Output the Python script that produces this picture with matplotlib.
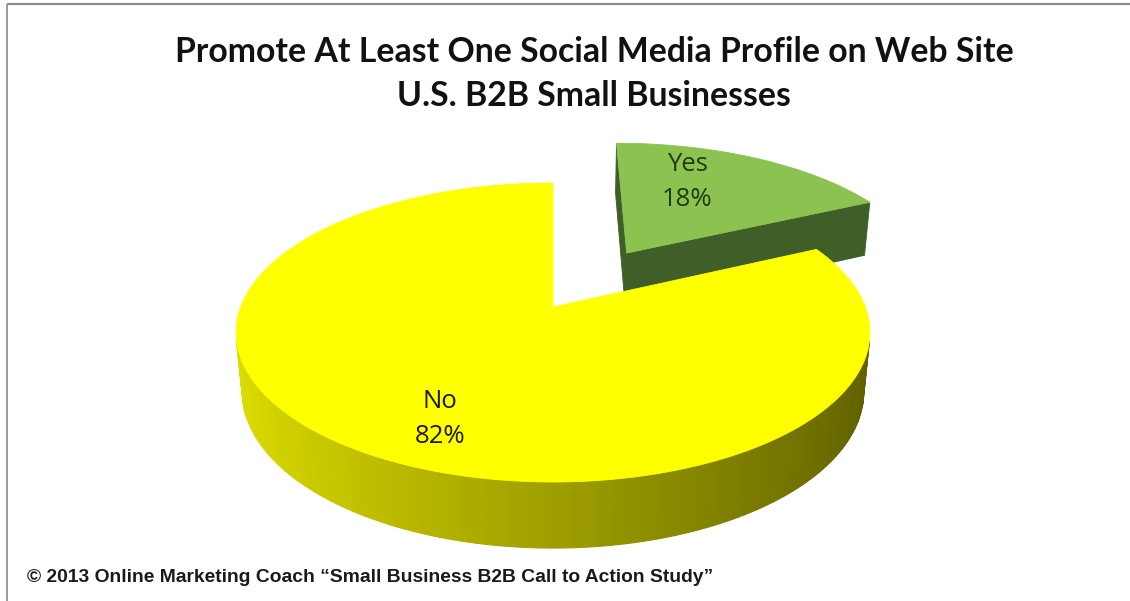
import numpy as np
import matplotlib.pyplot as plt
from matplotlib.patches import Polygon

# survey answers
labels = ["Yes", "No"]
shares = [18, 82]
top_colors = ["#8cc350", "#ffff00"]
text_colors = ["#1f3a10", "#1a1a00"]
exploded = [0.47, 0.0]

title = "Promote At Least One Social Media Profile on Web Site\nU.S. B2B Small Businesses"
footer = "\u00a9 2013 Online Marketing Coach \u201cSmall Business B2B Call to Action Study\u201d"

# camera for the tilted pie (pixel space)
CX, CY = 553, 307
FOCAL = 1622.0
DIST = 5.194
ELEV = np.radians(27.7)
THICK = 0.215
s_el, c_el = np.sin(ELEV), np.cos(ELEV)
cam = np.array([0.0, -DIST * c_el, DIST * s_el])


def project(X, Y, Z):
    X, Y, Z = np.asarray(X, float), np.asarray(Y, float), np.asarray(Z, float)
    depth = DIST + Y * c_el - Z * s_el
    u = FOCAL * X / depth
    v = FOCAL * (Y * s_el + Z * c_el) / depth
    return CX + u, CY - v


def facing(point, normal):
    return np.dot(cam - np.asarray(point), np.asarray(normal)) > 0


def side_shade(base, nx):
    # light from the left: brightness drops as the wall turns right
    t = (nx + 1) / 2
    k = 0.87 - 0.50 * t
    return tuple(np.clip(np.array(base) * k, 0, 1))


fig = plt.figure(figsize=(11.3, 6.01), dpi=100)
ax = fig.add_axes([0, 0, 1, 1])
ax.set_xlim(0, 1130)
ax.set_ylim(601, 0)
ax.axis("off")

# slice angles, clockwise from 12 o'clock
total = float(sum(shares))
starts = np.cumsum([0] + shares[:-1]) / total * 2 * np.pi
spans = np.array(shares) / total * 2 * np.pi

side_base = {0: (0.25, 0.37, 0.155), 1: (1.0, 1.0, 0.0)}

for i in [0, 1]:
    a0, a1 = starts[i], starts[i] + spans[i]
    mid = (a0 + a1) / 2
    ox, oy = exploded[i] * np.sin(mid), exploded[i] * np.cos(mid)
    phi = np.linspace(a0, a1, 240)
    rx, ry = ox + np.sin(phi), oy + np.cos(phi)

    # radial faces
    for ang, sign in [(a0, -1), (a1, 1)]:
        ex, ey = ox + np.sin(ang), oy + np.cos(ang)
        n = np.array([np.cos(ang), -np.sin(ang), 0.0]) * sign
        if facing([ox, oy, 0], n):
            xs, ys = project([ox, ex, ex, ox], [oy, ey, ey, oy],
                             [0, 0, -THICK, -THICK])
            col = side_base[i] if i == 0 else side_shade(side_base[i], 0.6)
            ax.add_patch(Polygon(np.column_stack([xs, ys]), closed=True,
                                 facecolor=col, edgecolor=col, lw=0.6))

    # outer wall, drawn as thin strips
    for j in range(len(phi) - 1):
        pm = (phi[j] + phi[j + 1]) / 2
        n = [np.sin(pm), np.cos(pm), 0.0]
        if not facing([ox + np.sin(pm), oy + np.cos(pm), 0], n):
            continue
        xs, ys = project([rx[j], rx[j + 1], rx[j + 1], rx[j]],
                         [ry[j], ry[j + 1], ry[j + 1], ry[j]],
                         [0, 0, -THICK, -THICK])
        col = side_shade(side_base[i], np.sin(pm)) if i == 1 else side_base[i]
        ax.add_patch(Polygon(np.column_stack([xs, ys]), closed=True,
                             facecolor=col, edgecolor=col, lw=0.8))

    # top face
    xs, ys = project(np.r_[ox, rx], np.r_[oy, ry], np.zeros(len(rx) + 1))
    ax.add_patch(Polygon(np.column_stack([xs, ys]), closed=True,
                         facecolor=top_colors[i], edgecolor=top_colors[i], lw=0.6))

# data labels
label_pos = [(687, 182), (440, 419)]
for i, (lx, ly) in enumerate(label_pos):
    ax.text(lx, ly, f"{labels[i]}\n{shares[i]}%", ha="center", va="center",
            fontsize=18.5, color=text_colors[i], linespacing=1.5,
            family=["Open Sans", "DejaVu Sans"])

ax.text(594, 74, title, ha="center", va="center", fontsize=24.3,
        fontweight="bold", linespacing=1.5, color="#111111",
        family=["Lato", "DejaVu Sans"])
ax.text(27, 577, footer, ha="left", va="center", fontsize=13.9,
        fontweight="bold", color="#1a1a1a",
        family=["Liberation Sans", "DejaVu Sans"])

# frame lines along top and left
ax.plot([7, 1130], [4, 4], color="#8c8c8c", lw=1.6, solid_capstyle="butt")
ax.plot([7, 7], [4, 601], color="#9a9a9a", lw=1.4, solid_capstyle="butt")

fig.savefig("out.png", dpi=100)
